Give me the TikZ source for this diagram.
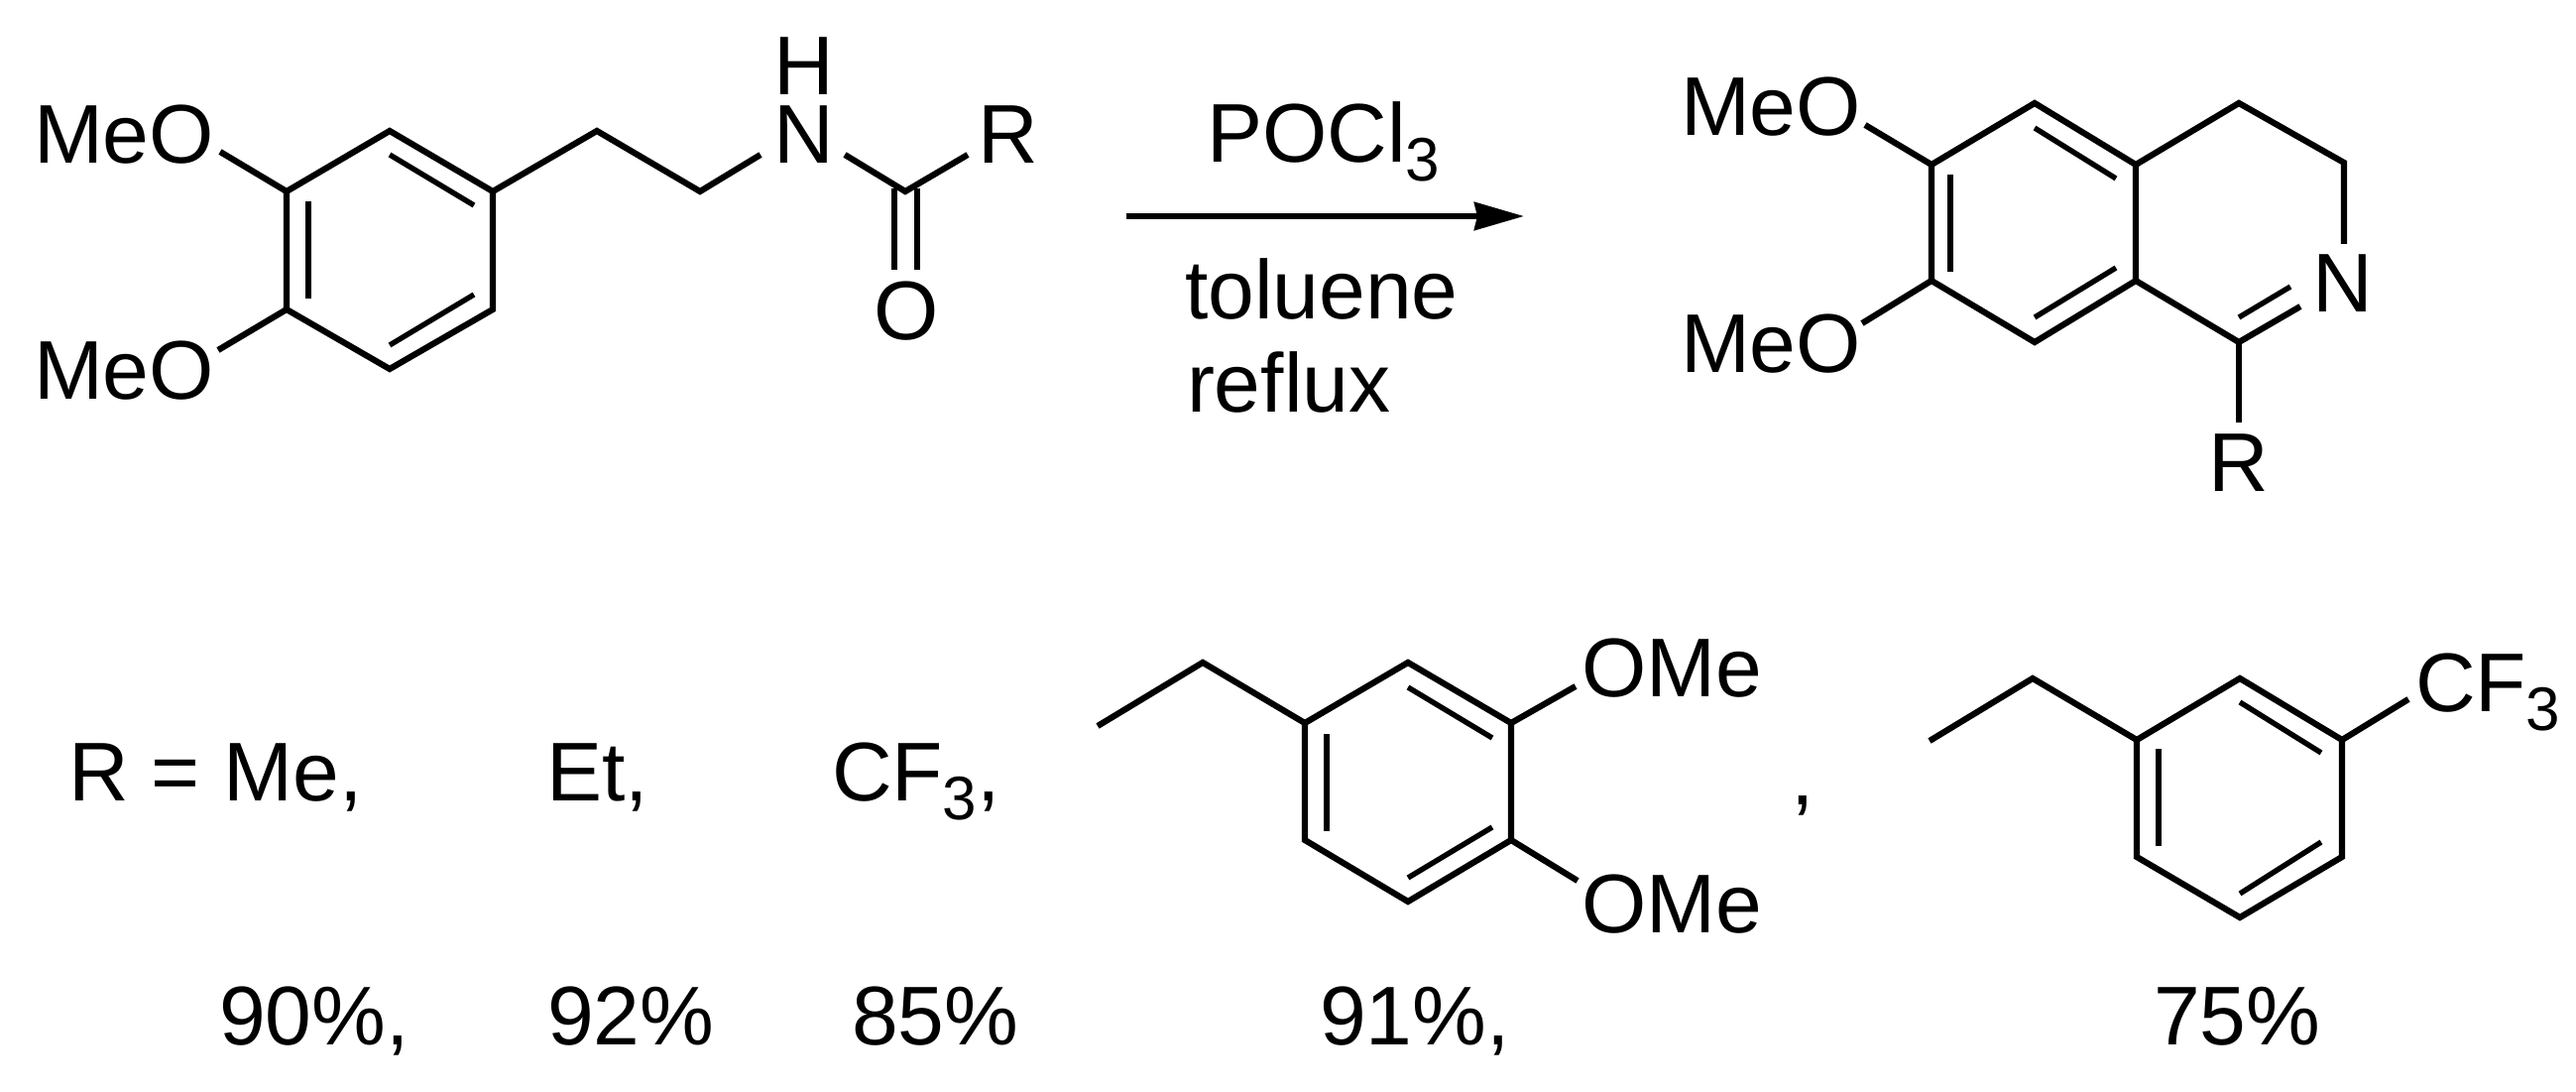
\documentclass[tikz,border=0pt]{standalone}
\usepackage{fontspec}
\setmainfont{Liberation Sans}
\usetikzlibrary{arrows.meta}
\newcommand{\subthree}{\raisebox{-9.5pt}{\fontsize{31}{31}\selectfont 3}}
\tikzset{
  lab/.style={inner sep=0pt,outer sep=0pt,anchor=base west,font=\fontsize{42}{48}\selectfont},
  bond/.style={line width=3.1pt,line join=miter,line cap=butt,draw=black},
  thin bond/.style={line width=2.7pt,line cap=butt,draw=black},
  rxn/.style={line width=3pt,draw=black,-{Stealth[length=25pt,width=14pt,inset=1.5pt]}}
}
\begin{document}
\begin{tikzpicture}[x=0.5pt,y=-0.5pt]
\useasboundingbox (0,0) rectangle (2598,1101);
% ---------- substrate
\node[lab] (meo1) at (34,165) {MeO};
\node[lab] (meo2) at (34,403) {MeO};
\node[lab] (nh)   at (780,165) {N};
\node[lab] (h)    at (780,96)  {H};
\node[lab] (r1)   at (986,165) {R};
\node[lab] (o1)   at (881,343) {O};
\foreach \n/\x/\y in {a1/393/132,a2/497/193,a3/497/312,a4/393/372,a5/289/312,a6/289/193,
  c1/602/132,c2/706/193,e1/767/156,f1/852/156,c3/913/193,e2/976/156,
  o1a/222/153,o2a/220/353,
  i1/393/156,i2/478/207,i3/311/203,i4/311/301,i5/478/297,i6/393/348,
  d1/902/190,d2/902/272,d3/925/190,d4/925/272}
  \coordinate (\n) at (\x,\y);
\draw[bond] (a1)--(a2)--(a3)--(a4)--(a5)--(a6)--cycle;
\draw[bond] (a2)--(c1)--(c2)--(e1);
\draw[bond] (f1)--(c3)--(e2);
\draw[bond] (a6)--(o1a);
\draw[bond] (a5)--(o2a);
\draw[thin bond] (i1)--(i2);
\draw[thin bond] (i3)--(i4);
\draw[thin bond] (i5)--(i6);
\draw[thin bond] (d1)--(d2);
\draw[thin bond] (d3)--(d4);
% ---------- arrow
\coordinate (as) at (1136,218);
\coordinate (ae) at (1537,218);
\draw[rxn] (as)--(ae);
\node[lab] (pocl) at (1217,164) {POCl\subthree};
\node[lab] (tol)  at (1195,322) {toluene};
\node[lab] (ref)  at (1197,416) {reflux};
% ---------- product
\node[lab] (pm1) at (1695,137) {MeO};
\node[lab] (pm2) at (1695,376) {MeO};
\node[lab] (pn)  at (2332,315) {N};
\node[lab] (pr)  at (2227,495) {R};
\foreach \n/\x/\y in {b1/2052/104,b2/2154/166,b3/2154/283,b4/2052/345,b5/1948/283,b6/1948/166,
  b7/2258/104,b8/2364/164,b9/2364/246,b10/2258/345,b11/2320/309,b12/2258/320,b13/2310/289,
  b14/2258/426,b15/1881/126,b16/1878/326,
  j1/2052/129,j2/2134/180,j3/1967/176,j4/1967/274,j5/2134/270,j6/2052/320}
  \coordinate (\n) at (\x,\y);
\draw[bond] (b1)--(b2)--(b3)--(b4)--(b5)--(b6)--cycle;
\draw[bond] (b2)--(b7)--(b8)--(b9);
\draw[bond] (b3)--(b10)--(b11);
\draw[bond] (b10)--(b14);
\draw[thin bond] (b12)--(b13);
\draw[bond] (b6)--(b15);
\draw[bond] (b5)--(b16);
\draw[thin bond] (j1)--(j2);
\draw[thin bond] (j3)--(j4);
\draw[thin bond] (j5)--(j6);
% ---------- R row
\node[lab] (rme) at (69,807) {R = Me,};
\node[lab] (ret) at (551,807) {Et,};
\node[lab] (rcf) at (839,807) {CF\subthree,};
\node[lab] (y1) at (221,1053) {90\%,};
\node[lab] (y2) at (552,1053) {92\%};
\node[lab] (y3) at (859,1053) {85\%};
\node[lab] (y4) at (1331,1053) {91\%,};
\node[lab] (y5) at (2172,1053) {75\%};
\node[lab] (comma) at (1806,811) {,};
% ---------- dimethoxybenzyl
\node[lab] (om1) at (1595,702) {OMe};
\node[lab] (om2) at (1595,940) {OMe};
\foreach \n/\x/\y in {p1/1420/668,p2/1524/729,p3/1524/847,p4/1420/909,p5/1316/847,p6/1316/729,
  p7/1213/668,p8/1107/732,p9/1589/692,p10/1591/888,
  k1/1420/693,k2/1505/744,k3/1338/740,k4/1338/838,k5/1505/834,k6/1420/885}
  \coordinate (\n) at (\x,\y);
\draw[bond] (p1)--(p2)--(p3)--(p4)--(p5)--(p6)--cycle;
\draw[bond] (p6)--(p7)--(p8);
\draw[bond] (p2)--(p9);
\draw[bond] (p3)--(p10);
\draw[thin bond] (k1)--(k2);
\draw[thin bond] (k3)--(k4);
\draw[thin bond] (k5)--(k6);
% ---------- CF3 benzyl
\node[lab] (cf) at (2436,717) {CF\subthree};
\foreach \n/\x/\y in {q1/2259/684,q2/2362/746,q3/2362/864,q4/2259/925,q5/2155/864,q6/2155/746,
  q7/2050/684,q8/1946/747,q9/2429/705,
  m1/2259/708,m2/2341/759,m3/2177/755,m4/2177/853,m5/2341/849,m6/2259/901}
  \coordinate (\n) at (\x,\y);
\draw[bond] (q1)--(q2)--(q3)--(q4)--(q5)--(q6)--cycle;
\draw[bond] (q6)--(q7)--(q8);
\draw[bond] (q2)--(q9);
\draw[thin bond] (m1)--(m2);
\draw[thin bond] (m3)--(m4);
\draw[thin bond] (m5)--(m6);
\end{tikzpicture}
\end{document}
